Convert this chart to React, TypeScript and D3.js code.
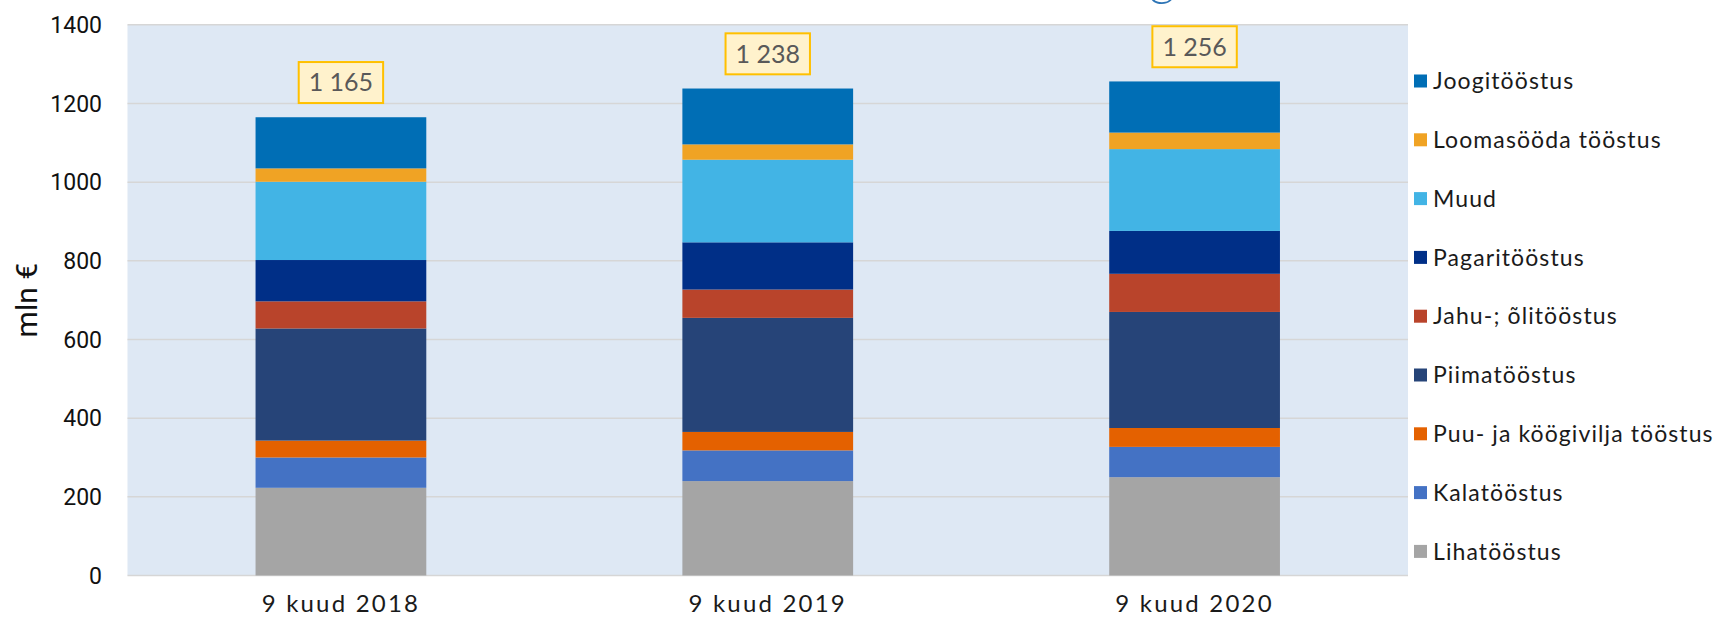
import { useEffect, useRef } from "react";
import * as d3 from "d3";

const categories = ["9 kuud 2018", "9 kuud 2019", "9 kuud 2020"];
// stacked bottom to top
const seriesNames = [
  "Lihatööstus",
  "Kalatööstus",
  "Puu- ja köögivilja tööstus",
  "Piimatööstus",
  "Jahu-; õlitööstus",
  "Pagaritööstus",
  "Muud",
  "Loomasööda tööstus",
  "Joogitööstus",
];
const liha = [223, 240, 250];
const kala = [77, 78, 77];
const puu = [43, 47, 48];
const piim = [285, 290, 295];
const jahu = [69, 72, 97];
const pagar = [105, 120, 109];
const muud = [199, 210, 208];
const looma = [34, 39, 42];
const jook = [130, 142, 130];
const totals = [1165, 1238, 1256];
const totalLabels = ["1 165", "1 238", "1 256"];
const yTicks = [0, 200, 400, 600, 800, 1000, 1200, 1400];

const colors = [
  "#a5a5a5",
  "#4472c4",
  "#e46100",
  "#264478",
  "#b9442b",
  "#002f87",
  "#42b4e5",
  "#f0a324",
  "#006eb5",
];

const W = 1715;
const H = 618;
const sideFont = "Lato, 'Open Sans', sans-serif";

export default function App() {
  const ref = useRef<SVGSVGElement | null>(null);

  useEffect(() => {
    const svg = d3.select(ref.current);
    svg.selectAll("*").remove();

    const values = [liha, kala, puu, piim, jahu, pagar, muud, looma, jook];
    const rows = categories.map((c, i) => {
      const r: any = { cat: c };
      seriesNames.forEach((s, k) => (r[s] = values[k][i]));
      return r;
    });
    const stacked = d3.stack().keys(seriesNames)(rows);

    const x = d3.scaleBand()
      .domain(categories)
      .range([127.5, 1408])
      .paddingInner(0.6)
      .paddingOuter(0.3);
    const y = d3.scaleLinear().domain([0, 1400]).range([575.5, 24.8]);

    // partial title glyph cut at the top edge
    svg.append("text")
      .attr("x", 1162)
      .attr("y", -5)
      .attr("text-anchor", "middle")
      .attr("font-family", sideFont)
      .attr("font-weight", 300)
      .attr("font-size", 50)
      .attr("fill", "#2e75b6")
      .text("g");

    // plot background
    svg.append("rect")
      .attr("x", 127.5)
      .attr("y", y(1400))
      .attr("width", 1408 - 127.5)
      .attr("height", y(0) - y(1400))
      .attr("fill", "#dee8f4");

    // gridlines
    svg.append("g")
      .selectAll("line")
      .data(yTicks)
      .join("line")
      .attr("x1", 127.5)
      .attr("x2", 1408)
      .attr("y1", d => y(d))
      .attr("y2", d => y(d))
      .attr("stroke", "#d6d6d6")
      .attr("stroke-width", 1.5);

    // y axis labels
    svg.append("g")
      .selectAll("text")
      .data(yTicks)
      .join("text")
      .attr("x", 102)
      .attr("y", d => y(d))
      .attr("dy", "0.36em")
      .attr("text-anchor", "end")
      .attr("font-family", "Roboto, sans-serif")
      .attr("font-size", 23)
      .attr("fill", "#111")
      .text(d => d);

    svg.append("text")
      .attr("transform", `translate(37, ${(y(0) + y(1400)) / 2}) rotate(-90)`)
      .attr("text-anchor", "middle")
      .attr("font-family", "Roboto, sans-serif")
      .attr("font-size", 30)
      .attr("fill", "#111")
      .text("mln €");

    // stacked bars
    svg.append("g")
      .selectAll("g")
      .data(stacked)
      .join("g")
      .attr("fill", (d, i) => colors[i])
      .selectAll("rect")
      .data(d => d)
      .join("rect")
      .attr("x", d => x(d.data.cat as string)!)
      .attr("width", x.bandwidth())
      .attr("y", d => y(d[1]))
      .attr("height", d => y(d[0]) - y(d[1]));

    // x labels
    svg.append("g")
      .selectAll("text")
      .data(categories)
      .join("text")
      .attr("x", d => x(d)! + x.bandwidth() / 2)
      .attr("y", 612)
      .attr("text-anchor", "middle")
      .attr("font-family", sideFont)
      .attr("font-size", 24)
      .attr("letter-spacing", 2.2)
      .attr("fill", "#1a1a1a")
      .text(d => d);

    // total labels in boxes
    const tot = svg.append("g")
      .selectAll("g")
      .data(categories)
      .join("g");
    tot.append("rect")
      .attr("fill", "#fff2cc")
      .attr("stroke", "#ffc000")
      .attr("stroke-width", 2);
    tot.append("text")
      .attr("x", d => x(d)! + x.bandwidth() / 2)
      .attr("y", (d, i) => y(totals[i]) - 34.6)
      .attr("dy", "0.35em")
      .attr("text-anchor", "middle")
      .attr("font-family", sideFont)
      .attr("font-size", 25)
      .attr("fill", "#595959")
      .text((d, i) => totalLabels[i]);
    tot.each(function (d, i) {
      const g = d3.select(this);
      const t = g.select("text").node() as SVGTextElement;
      const w = t.getComputedTextLength() + 20;
      g.select("rect")
        .attr("x", x(d)! + x.bandwidth() / 2 - w / 2)
        .attr("y", y(totals[i]) - 55.2)
        .attr("width", w)
        .attr("height", 41);
    });

    // legend (top to bottom is reverse stack order)
    const legendItems = seriesNames.map((s, i) => ({ s, c: colors[i] })).reverse();
    const leg = svg.append("g")
      .selectAll("g")
      .data(legendItems)
      .join("g")
      .attr("transform", (d, i) => `translate(1414, ${81 + i * 58.8})`);
    leg.append("rect")
      .attr("x", 0)
      .attr("y", -6.5)
      .attr("width", 13)
      .attr("height", 13)
      .attr("fill", d => d.c);
    leg.append("text")
      .attr("x", 19)
      .attr("dy", "0.36em")
      .attr("font-family", sideFont)
      .attr("font-size", 23)
      .attr("letter-spacing", 1.1)
      .attr("fill", "#1a1a1a")
      .text(d => d.s);
  }, []);

  return (
    <div style={{ position: "fixed", left: 0, top: 0 }}>
      <svg ref={ref} width={W} height={H} style={{ display: "block", background: "#fff" }} />
    </div>
  );
}
